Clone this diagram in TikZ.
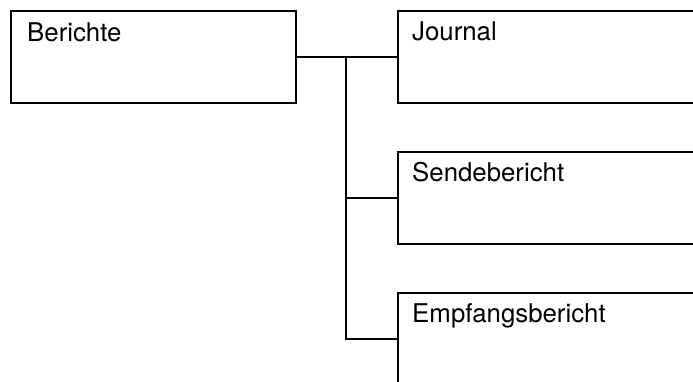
\documentclass[tikz,border=0pt]{standalone}
\usepackage{fontspec}
\setmainfont{TeX Gyre Heros}
\begin{document}
\begin{tikzpicture}[x=1pt,y=-1pt,
  box/.style={draw=black,line width=2pt,rectangle,inner sep=0pt,anchor=north west,minimum width=#1,minimum height=92pt},
  lbl/.style={anchor=base west,inner sep=0pt,font=\fontsize{25.8}{30}\selectfont},
  conn/.style={draw=black,line width=2pt}]
\useasboundingbox (0,0) rectangle (693,381);
\clip (0,0) rectangle (693,381);
\node[box=285.5pt] (berichte) at (9.5,10) {};
\node[box=330pt] (journal) at (397,10) {};
\node[box=330pt] (sende) at (397,151) {};
\node[box=330pt] (empf) at (397,292) {};
\node[lbl] (tb) at (27,41) {Berichte};
\node[lbl] (tj) at (412,40) {Journal};
\node[lbl] (ts) at (412,181) {Sendebericht};
\node[lbl] (te) at (412,322) {Empfangsbericht};
\coordinate (trunk) at (346,0);
\draw[conn] (berichte.east) -| (trunk |- empf.west) -- (empf.west);
\draw[conn] (trunk |- journal.west) -- (journal.west);
\draw[conn] (trunk |- sende.west) -- (sende.west);
\end{tikzpicture}
\end{document}
